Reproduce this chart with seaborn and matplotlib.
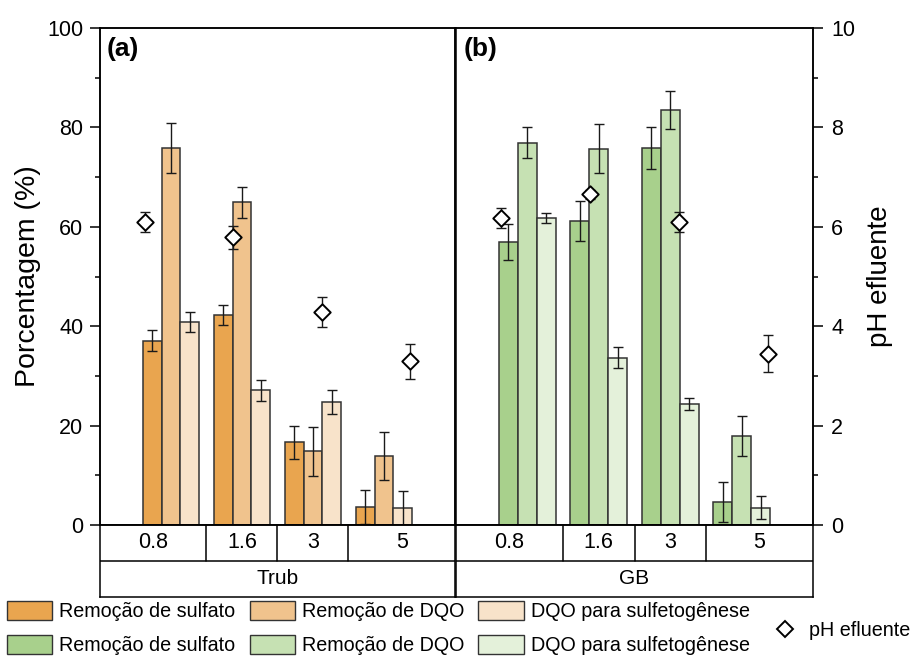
import numpy as np
import pandas as pd
import matplotlib
matplotlib.use("Agg")
import matplotlib.pyplot as plt
from matplotlib.patches import Patch
from matplotlib.lines import Line2D
from matplotlib.ticker import MultipleLocator
import seaborn as sns

# ---------------- data ----------------
groups = ["0.8", "1.6", "3", "5"]
series = ["Remoção de sulfato", "Remoção de DQO", "DQO para sulfetogênese"]
panels = ["Trub", "GB"]

trub_sulfato = [37.1, 42.2, 16.6, 3.7]
trub_sulfato_err = [2.1, 2.0, 3.4, 3.4]
trub_dqo = [75.9, 64.9, 14.8, 13.9]
trub_dqo_err = [5.0, 3.1, 5.0, 4.8]
trub_sulfeto = [40.9, 27.1, 24.7, 3.5]
trub_sulfeto_err = [2.0, 2.1, 2.4, 3.4]
trub_ph = [6.09, 5.79, 4.29, 3.29]
trub_ph_err = [0.20, 0.23, 0.30, 0.35]

gb_sulfato = [56.9, 61.1, 75.9, 4.7]
gb_sulfato_err = [3.6, 4.0, 4.2, 4.0]
gb_dqo = [76.9, 75.7, 83.5, 17.9]
gb_dqo_err = [3.1, 4.9, 3.8, 4.0]
gb_sulfeto = [61.8, 33.7, 24.4, 3.5]
gb_sulfeto_err = [1.0, 2.2, 1.2, 2.3]
gb_ph = [6.18, 6.65, 6.09, 3.45]
gb_ph_err = [0.20, 0.10, 0.20, 0.37]

# ---------------- style ----------------
orange = ["#E9A54F", "#F0C38D", "#F8E3CA"]
green = ["#A8D08C", "#C6E1B3", "#E4F1DA"]
edge = "#333333"
PH_OFFSETS = [-0.37, -0.12, 0.13, 0.37]

sns.set_theme(style="ticks")
plt.rcParams["font.family"] = ["Liberation Sans", "DejaVu Sans"]
plt.rcParams["axes.linewidth"] = 1.1
plt.rcParams["axes.edgecolor"] = "black"
plt.rcParams["text.color"] = "black"
plt.rcParams["axes.labelcolor"] = "black"
plt.rcParams["xtick.color"] = "black"
plt.rcParams["ytick.color"] = "black"

W, H = 912, 661
fig = plt.figure(figsize=(W / 100, H / 100), dpi=100)


def px_axes(x0, y0, x1, y1):
    return fig.add_axes([x0 / W, 1 - y1 / H, (x1 - x0) / W, (y1 - y0) / H])


axA = px_axes(100, 28, 455, 525)
axB = px_axes(456, 28, 813, 525)
tabA = px_axes(100, 525, 455, 597)
tabB = px_axes(456, 525, 813, 597)


def make_df(vals, errs):
    rows = []
    for s, v, e in zip(series, vals, errs):
        for g, vv, ee in zip(groups, v, e):
            rows.append({"grupo": g, "serie": s, "valor": vv, "erro": ee})
    return pd.DataFrame(rows)


dfA = make_df([trub_sulfato, trub_dqo, trub_sulfeto],
              [trub_sulfato_err, trub_dqo_err, trub_sulfeto_err])
dfB = make_df([gb_sulfato, gb_dqo, gb_sulfeto],
              [gb_sulfato_err, gb_dqo_err, gb_sulfeto_err])


def draw_panel(ax, df, palette, ph, ph_err, label, tab, name, right_axis):
    sns.barplot(data=df, x="grupo", y="valor", hue="serie", order=groups,
                hue_order=series, palette=palette, saturation=1, width=0.8,
                edgecolor=edge, linewidth=1.1, errorbar=None, legend=False,
                ax=ax)
    # error bars on top of each bar
    for cont, s in zip(ax.containers, series):
        sub = df[df["serie"] == s].set_index("grupo").loc[groups]
        xs = [b.get_x() + b.get_width() / 2 for b in cont]
        ax.errorbar(xs, sub["valor"].values, yerr=sub["erro"].values,
                    fmt="none", ecolor="#1a1a1a", elinewidth=1.0,
                    capsize=3.8, capthick=1.0, zorder=5)
    ax.set_xlim(-1, 4)
    ax.set_ylim(0, 100)
    ax.set_xlabel("")
    ax.set_ylabel("")
    ax.set_xticks([])
    ax.text(0.02, 0.982, label, transform=ax.transAxes, fontsize=19,
            fontweight="bold", ha="left", va="top")

    ax2 = ax.twinx()
    phx = [i + o for i, o in enumerate(PH_OFFSETS)]
    ax2.errorbar(phx, ph, yerr=ph_err, fmt="none", ecolor="#1a1a1a",
                 elinewidth=1.0, capsize=3.8, capthick=1.0, zorder=3)
    sns.scatterplot(x=phx, y=ph, marker="D", s=70, color="white",
                    edgecolor="black", linewidth=1.4, zorder=4, ax=ax2,
                    legend=False)
    ax2.set_xlim(-1, 4)
    ax2.set_ylim(0, 10)
    ax2.set_ylabel("")
    ax2.set_xlabel("")
    if not right_axis:
        ax2.set_yticks([])
        ax2.tick_params(right=False, labelright=False)
    for sp in ax2.spines.values():
        sp.set_linewidth(1.1)

    # table below
    tab.set_xlim(-1, 4)
    tab.set_ylim(0, 2)
    tab.set_xticks([])
    tab.set_yticks([])
    for sp in tab.spines.values():
        sp.set_visible(True)
        sp.set_linewidth(1.1)
        sp.set_color("black")
    tab.axhline(1, color="black", lw=1.1)
    bounds = [-1, 0.5, 1.5, 2.5, 4]
    for b in bounds[1:-1]:
        tab.axvline(b, ymin=0.5, ymax=1, color="black", lw=1.1)
    for g, l, r in zip(groups, bounds[:-1], bounds[1:]):
        tab.text((l + r) / 2, 1.5, g, ha="center", va="center", fontsize=15.5)
    tab.text(1.5, 0.5, name, ha="center", va="center", fontsize=15)
    return ax2


ax2A = draw_panel(axA, dfA, orange, trub_ph, trub_ph_err, "(a)", tabA,
                  panels[0], False)
ax2B = draw_panel(axB, dfB, green, gb_ph, gb_ph_err, "(b)", tabB,
                  panels[1], True)

# y axes
axA.yaxis.set_major_locator(MultipleLocator(20))
axA.yaxis.set_minor_locator(MultipleLocator(10))
axA.tick_params(axis="y", which="major", direction="out", length=7,
                width=1.1, labelsize=15.5, pad=5)
axA.tick_params(axis="y", which="minor", direction="out", length=3.5,
                width=1.1)
axA.set_ylabel("Porcentagem (%)", fontsize=20.5)
axA.yaxis.set_label_coords(-0.165, 0.5)

axB.set_yticks([])
axB.tick_params(left=False, labelleft=False)
axB.spines["left"].set_visible(False)

ax2B.yaxis.set_major_locator(MultipleLocator(2))
ax2B.yaxis.set_minor_locator(MultipleLocator(1))
ax2B.tick_params(axis="y", which="major", direction="out", length=7,
                 width=1.1, labelsize=15.5, pad=6)
ax2B.tick_params(axis="y", which="minor", direction="out", length=3.5,
                 width=1.1)
ax2B.set_ylabel("pH efluente", fontsize=20)
ax2B.yaxis.set_label_coords(1.15, 0.5)

for ax in (axA, axB):
    for sp in ax.spines.values():
        sp.set_linewidth(1.1)
        sp.set_color("black")

# legends
handles = []
labels = []
for i in range(3):
    handles.append(Patch(facecolor=orange[i], edgecolor=edge, lw=1.0))
    labels.append(series[i])
    handles.append(Patch(facecolor=green[i], edgecolor=edge, lw=1.0))
    labels.append(series[i])
fig.legend(handles, labels, loc="upper left", bbox_to_anchor=(7 / W, 1 - 601 / H),
           ncol=3, frameon=False, fontsize=14.2, handlelength=2.3,
           handleheight=1.1, handletextpad=0.35, columnspacing=0.72,
           labelspacing=0.68, borderpad=0, borderaxespad=0)
fig.legend([Line2D([], [], marker="D", ls="none", mfc="white", mec="black",
                   ms=8, mew=1.4)], ["pH efluente"], loc="center left",
           bbox_to_anchor=(775 / W, 1 - 630 / H), frameon=False, fontsize=14.2,
           handlelength=1.0, handletextpad=0.7, borderpad=0, borderaxespad=0)

fig.savefig("out.png", dpi=100)
